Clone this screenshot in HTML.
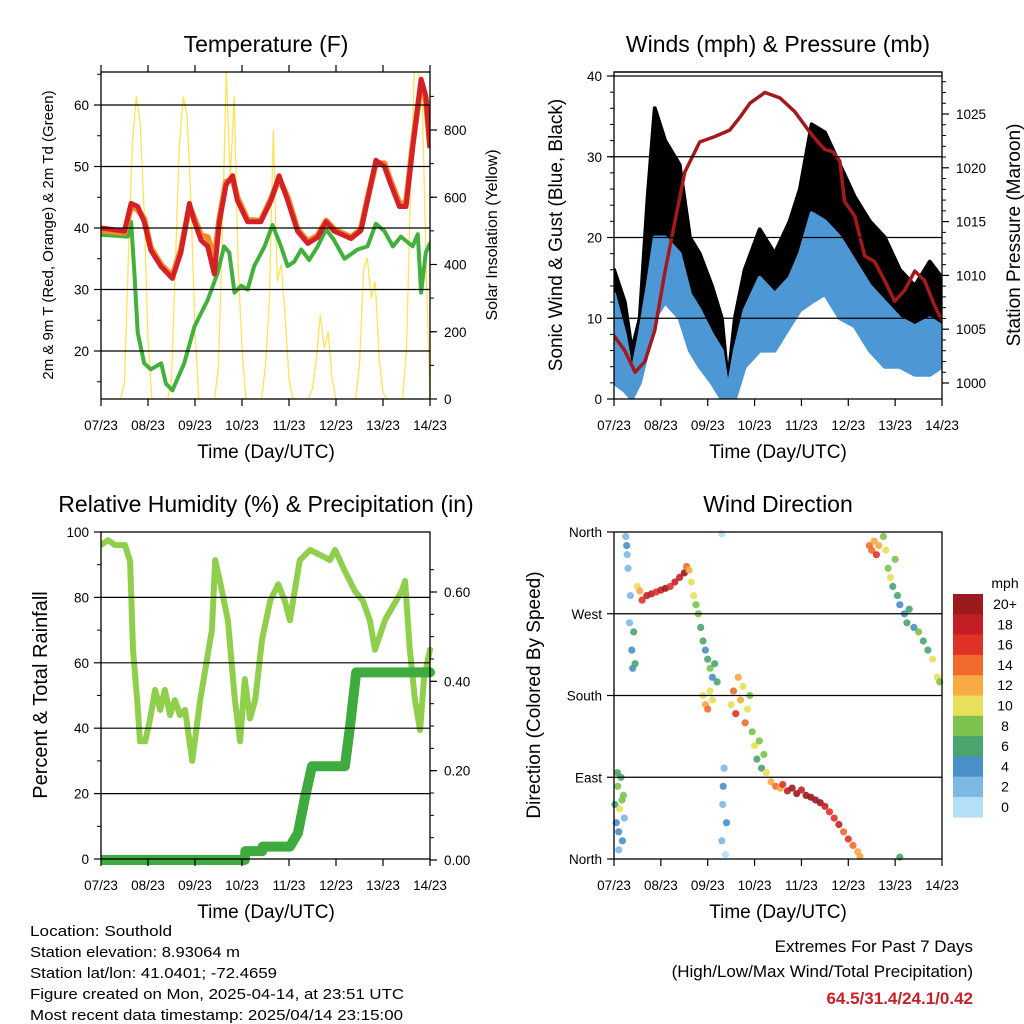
<!DOCTYPE html>
<html><head><meta charset="utf-8"><style>
html,body{margin:0;padding:0;background:#fff}
svg{display:block;font-family:"Liberation Sans",Arial,sans-serif}
</style></head><body>
<svg id="s" width="1024" height="1024" viewBox="0 0 1024 1024" xmlns="http://www.w3.org/2000/svg">
<g id="static">
<text x="266" y="52" font-size="23" text-anchor="middle">Temperature (F)</text>
<text x="778" y="52" font-size="23" text-anchor="middle">Winds (mph) &amp; Pressure (mb)</text>
<text x="266" y="512" font-size="23" text-anchor="middle">Relative Humidity (%) &amp; Precipitation (in)</text>
<text x="778" y="512" font-size="23" text-anchor="middle">Wind Direction</text>
<text x="266" y="458" font-size="19" text-anchor="middle">Time (Day/UTC)</text>
<text x="778" y="458" font-size="19" text-anchor="middle">Time (Day/UTC)</text>
<text x="266" y="918" font-size="19" text-anchor="middle">Time (Day/UTC)</text>
<text x="778" y="918" font-size="19" text-anchor="middle">Time (Day/UTC)</text>
<text transform="translate(53,235) rotate(-90)" font-size="15" text-anchor="middle">2m &amp; 9m T (Red, Orange) &amp; 2m Td (Green)</text>
<text transform="translate(497,235) rotate(-90)" font-size="16" text-anchor="middle">Solar Insolation (Yellow)</text>
<text transform="translate(562,235) rotate(-90)" font-size="19" text-anchor="middle">Sonic Wind &amp; Gust (Blue, Black)</text>
<text transform="translate(1020,235) rotate(-90)" font-size="19" text-anchor="middle">Station Pressure (Maroon)</text>
<text transform="translate(47,695) rotate(-90)" font-size="20" text-anchor="middle">Percent &amp; Total Rainfall</text>
<text transform="translate(540,695) rotate(-90)" font-size="19" text-anchor="middle">Direction (Colored By Speed)</text>
<g font-size="15">
<text x="30" y="936" textLength="142" lengthAdjust="spacingAndGlyphs">Location: Southold</text>
<text x="30" y="957" textLength="210" lengthAdjust="spacingAndGlyphs">Station elevation: 8.93064 m</text>
<text x="30" y="978" textLength="247" lengthAdjust="spacingAndGlyphs">Station lat/lon: 41.0401; -72.4659</text>
<text x="30" y="999" textLength="374" lengthAdjust="spacingAndGlyphs">Figure created on Mon, 2025-04-14, at 23:51 UTC</text>
<text x="30" y="1020" textLength="373" lengthAdjust="spacingAndGlyphs">Most recent data timestamp: 2025/04/14 23:15:00</text>
</g>
<text x="973" y="952" font-size="17" text-anchor="end">Extremes For Past 7 Days</text>
<text x="973" y="977" font-size="17" text-anchor="end">(High/Low/Max Wind/Total Precipitation)</text>
<text x="973" y="1004" font-size="17" font-weight="bold" fill="#c8202a" text-anchor="end">64.5/31.4/24.1/0.42</text>
</g>
</svg>
<script>
// ---- data ----
const dayLabels=["07/23","08/23","09/23","10/23","11/23","12/23","13/23","14/23"];
const tempT=[0,0.5,0.64,0.78,0.92,1.06,1.28,1.52,1.7,1.88,1.99,2.13,2.27,2.41,2.52,2.66,2.8,2.9,3.12,3.4,3.62,3.79,3.97,4.18,4.4,4.61,4.79,4.96,5.32,5.53,5.67,5.85,6.03,6.17,6.35,6.49,6.63,6.81,6.91,7.0];
const redV=[40,39.5,44,43.5,41,36.4,33.7,31.8,36,44,41,38,37,32.5,41,47,48.5,44.5,41,41,44.5,48.5,44.5,39.5,37.5,38.5,41,39.5,38.3,39.6,44.5,51,50,47,43.5,43.5,53,64.2,61.5,53];
const orangeV=[39.6,39.2,43.5,43,41.5,36.8,34,32.2,36.5,43.5,41.5,38.8,38.5,35,41.5,47.5,48,45,41.3,41.2,44.8,48,45,39.8,37.8,38.8,41.2,39.8,38.5,39.8,44.8,50.5,50.5,47.5,44,44,53.5,63.5,61,53.3];
const dewT=[0,0.57,0.64,0.71,0.78,0.92,1.06,1.28,1.38,1.52,1.77,1.99,2.27,2.48,2.62,2.73,2.84,2.98,3.12,3.26,3.48,3.65,3.83,3.97,4.11,4.26,4.43,4.61,4.79,4.96,5.18,5.46,5.67,5.85,6.03,6.21,6.38,6.63,6.74,6.81,6.91,7.0];
const dewV=[38.9,38.6,41,32.7,23,18,17,18,14.7,13.6,18,24,28.3,32.7,37,36,29.5,30.6,30,33.8,37,40.5,37,33.8,34.5,36.5,34.8,37,39.8,38,35,36.5,37,40.7,39.5,37,38.6,37,39,29.5,36,37.5];
const solarV=[0,0,0,0,0,0,50,420,760,900,820,560,
180,0,0,0,0,0,60,400,750,900,840,580,
200,0,0,0,0,0,100,500,976,650,900,400,
150,0,0,0,0,0,100,300,800,350,400,250,
60,0,0,0,0,0,30,120,250,150,200,60,
0,0,0,0,0,0,100,380,420,300,350,120,
20,0,0,0,0,0,150,600,976,976,900,400,0];
const windT=[0,0.23,0.38,0.55,0.72,0.87,1.09,1.4,1.62,1.83,2.09,2.3,2.43,2.58,2.79,3.11,3.43,3.75,3.97,4.22,4.5,4.82,5.14,5.46,5.78,6.1,6.42,6.74,7];
const gustHi=[16,12,6,10,25,36,32,29,20,18,14,10,2,10,16,21,18,22,26,34,33,29,25,22,20,16,14,17,15];
const gustLo=[4,2,0.5,3,10,14,15,13,8,6,3,1,0,1,6,8,8,11,12,14,15,12,10,7,5,5,4,4,4];
const windHi=[13,8,3,8,14,20,20,18,13,11,8,6,1,6,11,15,13,15,18,23,22,20,17,14,12,10,9,10,9];
const windLo=[2,1,0,2,6,10,12,10,6,4,2,0,0,0,4,6,6,9,11,12,13,10,9,6,4,4,3,3,4];
const presT=[0,0.23,0.45,0.66,0.87,1.09,1.3,1.51,1.83,2.15,2.47,2.69,2.9,3.22,3.54,3.86,4.18,4.35,4.5,4.67,4.82,4.92,5.14,5.35,5.56,5.78,5.99,6.2,6.42,6.63,6.84,7.0];
const presV=[1004.4,1003,1001,1002,1004.9,1010.4,1015,1019.6,1022.4,1022.9,1023.5,1024.7,1026,1027,1026.5,1025.2,1023.3,1022.4,1021.7,1021.5,1020.6,1016.9,1015.5,1011.8,1011.3,1009.5,1007.6,1008.6,1010.4,1009.5,1007.2,1005.8];
const rhT=[0,0.15,0.3,0.51,0.62,0.68,0.77,0.83,0.94,1.04,1.15,1.26,1.36,1.47,1.57,1.68,1.79,1.85,1.94,2.11,2.36,2.43,2.53,2.7,2.85,2.96,3.06,3.17,3.28,3.426,3.6,3.77,3.91,4.02,4.23,4.45,4.66,4.87,4.98,5.08,5.19,5.4,5.57,5.72,5.83,6.04,6.4,6.47,6.57,6.68,6.79,6.87,7.0];
const rhV=[96,97.5,96,96,91,64,48.6,36,36,42.5,51.7,45.6,51.7,44,48.6,44,45.6,39.4,30,48.6,70,91.4,85,73,48.6,36,55,43,48.6,67,79,84,79,73,91.4,94.5,93,91.4,94.5,91.4,88,82,79,73,64,73,82,85,64,48.6,39.4,55,64];
const precipT=[0,3.06,3.07,3.43,3.44,4.02,4.19,4.34,4.49,5.19,5.3,5.43,7.0];
const precipV=[0,0,0.02,0.02,0.03,0.03,0.06,0.14,0.21,0.21,0.3,0.42,0.42];
const dirT=[0.02,0.05,0.08,0.1,0.12,0.15,0.18,0.2,0.22,0.1,0.17,0.07,0.25,0.27,0.28,0.3,0.33,0.35,0.38,0.4,0.42,0.45,0.5,0.55,0.6,0.7,0.8,0.9,1.0,1.1,1.2,1.3,1.4,1.5,1.55,1.6,1.65,1.7,1.75,1.8,1.85,1.9,1.95,2.0,2.05,2.1,2.15,2.2,1.9,1.95,2.0,2.05,2.1,2.3,2.32,2.35,2.38,2.4,2.3,2.33,2.5,2.55,2.6,2.65,2.7,2.75,2.8,2.85,2.9,2.95,3.0,3.05,3.1,3.15,3.2,3.25,3.35,3.45,3.55,3.6,3.7,3.8,3.9,4.0,4.1,4.2,4.3,4.4,4.5,4.6,4.7,4.8,4.9,5.0,5.1,5.2,5.25,6.1,5.45,5.5,5.55,5.6,5.65,5.75,5.8,5.85,5.9,5.95,6.0,6.05,6.1,6.2,6.25,6.3,6.4,6.5,6.6,6.7,6.8,6.9,6.95];
const dirV=[60,40,80,30,55,90,20,70,45,10,65,95,355,345,335,320,260,290,230,210,250,215,300,295,285,290,292,294,296,298,300,305,310,315,322,318,305,290,280,270,255,240,230,220,210,200,215,195,180,170,165,185,175,20,60,100,5,40,358,80,170,185,160,200,175,190,150,165,180,140,125,110,130,100,115,95,85,80,78,82,75,78,72,76,70,68,65,62,58,52,45,38,30,22,15,8,3,2,345,340,350,335,345,355,340,320,310,300,330,290,280,270,260,275,255,250,240,230,220,200,195];
const spdV=[6,4,8,5,10,7,4,9,3,2,8,6,3,4,2,3,2,3,4,5,6,7,10,12,16,18,19,17,18,20,16,19,18,20,14,12,11,10,8,9,7,6,5,6,8,4,7,6,10,12,14,11,10,2,3,2,1,4,1,5,11,14,16,12,13,10,15,11,9,8,10,6,9,7,8,11,12,14,13,16,18,20,21,19,22,20,21,22,18,17,16,18,15,16,14,13,12,7,14,15,12,16,13,9,10,8,11,7,8,6,5,4,6,7,5,8,6,7,10,11,9];
const cbLabels=["20+","18","16","14","12","10","8","6","4","2","0"];
const cbColors=["#9a1a1e","#c41e25","#e03228","#f26a2e","#f7a945","#e8e05a","#7dc24e","#4aa56e","#4a8fc6","#7db9e3","#b3e0f7"];

// ---- drawing ----
const NS="http://www.w3.org/2000/svg";
const svg=document.getElementById('s');
function mk(tag,attrs,parent){const e=document.createElementNS(NS,tag);for(const k in attrs)e.setAttribute(k,attrs[k]);(parent||svg).appendChild(e);return e;}
function txt(x,y,s,size,anchor,parent){const e=mk('text',{x:x,y:y,'font-size':size,'text-anchor':anchor},parent);e.textContent=s;return e;}
const P1={x0:101,x1:430,y0:72,y1:399},P2={x0:614,x1:942,y0:72,y1:399},P3={x0:101,x1:430,y0:532,y1:859},P4={x0:614,x1:942,y0:532,y1:859};
function sx(P,t){return P.x0+t*(P.x1-P.x0)/7;}
function lin(v0,p0,v1,p1){return v=>p0+(v-v0)*(p1-p0)/(v1-v0);}
const y1T=lin(60,105,20,351), y1S=lin(0,399,800,130);
const y2W=lin(0,399,40,76), y2P=lin(1000,383,1025,114);
const y3R=lin(0,859,100,532), y3P=lin(0,860,0.6,592);
const y4D=lin(0,859,360,532);
function poly(P,ts,vs,yf){return ts.map((t,i)=>sx(P,t).toFixed(1)+','+yf(vs[i]).toFixed(1)).join(' ');}

function frame(P,name,gridVals,yf,leftTicks,leftFn,rightTicks,rightFn,minorL,minorR,topTicks){
  const g=mk('g',{});
  
  
  gridVals.forEach(v=>{const l=mk('line',{x1:P.x0,x2:P.x1,y1:yf(v),y2:yf(v),stroke:'#000','stroke-width':1.2},g);
    
    });
  mk('rect',{x:P.x0,y:P.y0,width:P.x1-P.x0,height:P.y1-P.y0,fill:'none',stroke:'#000','stroke-width':1.3},g);
  for(let d=0;d<=7;d++){const x=sx(P,d);
    mk('line',{x1:x,x2:x,y1:P.y1,y2:P.y1+7,stroke:'#000','stroke-width':1.2},g);
    if(topTicks)mk('line',{x1:x,x2:x,y1:P.y0,y2:P.y0-7,stroke:'#000','stroke-width':1.2},g);
    const t=txt(x,P.y1+31,dayLabels[d],13.5,'middle',g);
    
    }
  leftTicks.forEach(v=>{const y=leftFn(v.v);mk('line',{x1:P.x0-7,x2:P.x0,y1:y,y2:y,stroke:'#000','stroke-width':1.2},g);
    const t=txt(P.x0-12,y+5,v.l,13.5,'end',g);
    
    });
  (minorL||[]).forEach(v=>{const y=leftFn(v);mk('line',{x1:P.x0-4,x2:P.x0,y1:y,y2:y,stroke:'#000','stroke-width':1},g);});
  (rightTicks||[]).forEach(v=>{const y=rightFn(v.v);mk('line',{x1:P.x1,x2:P.x1+7,y1:y,y2:y,stroke:'#000','stroke-width':1.2},g);
    const t=txt(P.x1+14,y+5,v.l,13.5,'start',g);
    
    });
  (minorR||[]).forEach(v=>{const y=rightFn(v);mk('line',{x1:P.x1,x2:P.x1+4,y1:y,y2:y,stroke:'#000','stroke-width':1},g);});
}

// Panel 1
const clip=(P,id)=>{const c=mk('clipPath',{id:id});mk('rect',{x:P.x0,y:P.y0,width:P.x1-P.x0,height:P.y1-P.y0},c);return 'url(#'+id+')';};
const g1=mk('g',{'clip-path':clip(P1,'c1')});


const solarT=solarV.map((v,i)=>i/12);
let e=mk('polyline',{points:poly(P1,solarT,solarV,y1S),fill:'none',stroke:'#fde35a','stroke-width':1.3},g1);


e=mk('polyline',{points:poly(P1,dewT,dewV,y1T),fill:'none',stroke:'#44b03c','stroke-width':4,'stroke-linejoin':'round','stroke-linecap':'round'},g1);


e=mk('polyline',{points:poly(P1,tempT,orangeV,y1T),fill:'none',stroke:'#f58a2a','stroke-width':6,'stroke-linejoin':'round'},g1);


e=mk('polyline',{points:poly(P1,tempT,redV,y1T),fill:'none',stroke:'#d42128','stroke-width':5,'stroke-linejoin':'round'},g1);


const m5=[];for(let v=15;v<=65;v+=5)m5.push(v);
const m100=[];for(let v=0;v<=900;v+=100)m100.push(v);
frame(P1,'temperature',[60,50,40,30,20],y1T,[20,30,40,50,60].map(v=>({v:v,l:''+v})),y1T,[0,200,400,600,800].map(v=>({v:v,l:''+v})),y1S,m5,m100,true);

// Panel 2
const g2=mk('g',{'clip-path':clip(P2,'c2')});


function band(P,ts,hi,lo,yf,fill,name,parent){const pts=ts.map((t,i)=>sx(P,t).toFixed(1)+','+yf(hi[i]).toFixed(1)).concat(ts.slice().reverse().map((t,j)=>{const i=ts.length-1-j;return sx(P,t).toFixed(1)+','+yf(lo[i]).toFixed(1);}));
  const p=mk('polygon',{points:pts.join(' '),fill:fill,stroke:fill,'stroke-width':4,'stroke-linejoin':'round'},parent);
  
  }
band(P2,windT,gustHi,gustLo,y2W,'#000','gust-band',g2);
band(P2,windT,windHi,windLo,y2W,'#4d97d4','wind-band',g2);
e=mk('polyline',{points:poly(P2,presT,presV,y2P),fill:'none',stroke:'#a31a1d','stroke-width':3.5,'stroke-linejoin':'round'},g2);


const m2=[];for(let v=2;v<=40;v+=2)m2.push(v);
frame(P2,'winds',[10,20,30,40],y2W,[0,10,20,30,40].map(v=>({v:v,l:''+v})),y2W,[1000,1005,1010,1015,1020,1025].map(v=>({v:v,l:''+v})),y2P,m2,[1001,1002,1003,1004,1006,1007,1008,1009,1011,1012,1013,1014,1016,1017,1018,1019,1021,1022,1023,1024,1026,1027,1028],false);
mk('line',{x1:P2.x0,x2:P2.x1,y1:P2.y0,y2:P2.y0,stroke:'#000','stroke-width':1.2});

// Panel 3
const g3=mk('g',{'clip-path':clip({x0:P3.x0,x1:P3.x1+8,y0:P3.y0,y1:P3.y1+6},'c3')});


e=mk('polyline',{points:poly(P3,rhT,rhV,y3R),fill:'none',stroke:'#8fcf4c','stroke-width':6,'stroke-linejoin':'round','stroke-linecap':'round'},g3);


e=mk('polyline',{points:poly(P3,precipT,precipV,y3P),fill:'none',stroke:'#3fab3f','stroke-width':10,'stroke-linejoin':'round','stroke-linecap':'round'},g3);


const m10=[10,30,50,70,90];
const mp=[];for(let v=0.05;v<0.7;v+=0.05)mp.push(v);
frame(P3,'humidity',[20,40,60,80],y3R,[0,20,40,60,80,100].map(v=>({v:v,l:''+v})),y3R,[0,0.2,0.4,0.6].map(v=>({v:v,l:v.toFixed(2)})),y3P,m10,mp,false);

// Panel 4
const g4=mk('g',{});


function spdColor(s){let i=Math.min(10,Math.floor(s/2));return cbColors[10-i];}
frame(P4,'direction',[90,180,270],y4D,[{v:0,l:'North'},{v:90,l:'East'},{v:180,l:'South'},{v:270,l:'West'},{v:360,l:'North'}],y4D,null,null,null,null,false);
dirT.forEach((t,i)=>{const c=mk('circle',{cx:sx(P4,t).toFixed(1),cy:y4D(dirV[i]).toFixed(1),r:3.6,fill:spdColor(spdV[i]),'fill-opacity':0.9},g4);
  
  });
// colorbar
const cb=mk('g',{});


txt(1005,588,'mph',14,'middle',cb);
cbColors.forEach((c,i)=>{const r=mk('rect',{x:953,y:594+i*20.3,width:30,height:20.6,fill:c},cb);
  
  
  const t=txt(1005,594+i*20.3+15,cbLabels[i],14,'middle',cb);
  
  });
</script>
</body></html>
